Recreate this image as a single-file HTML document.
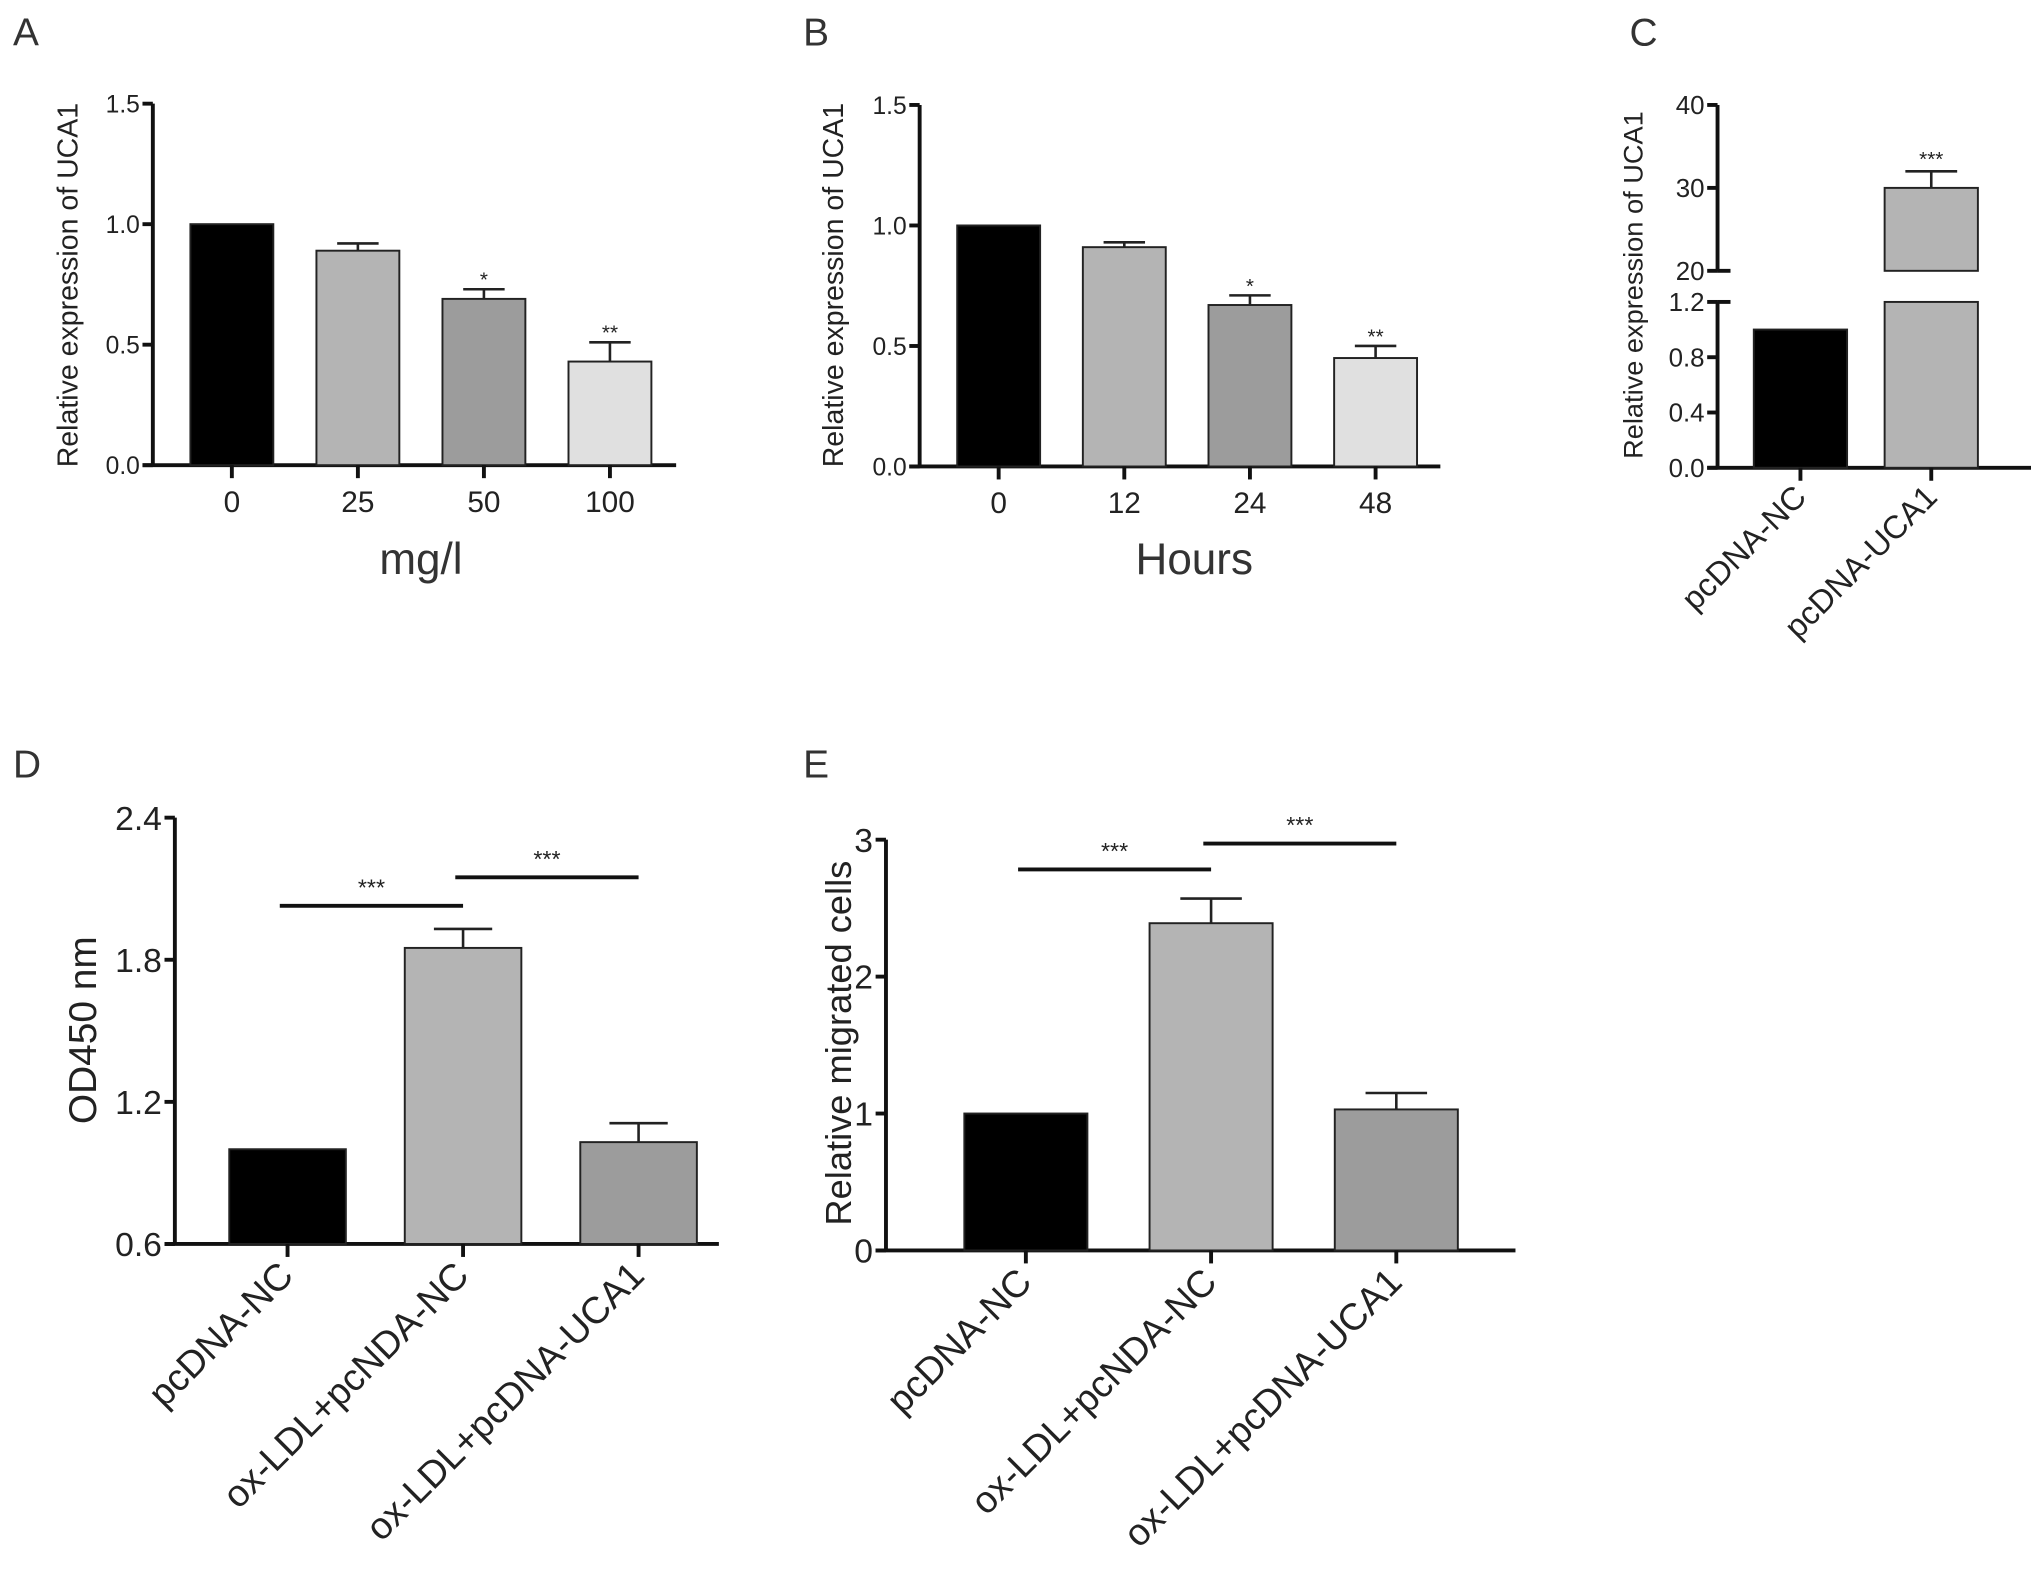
<!DOCTYPE html>
<html><head><meta charset="utf-8"><style>
html,body{margin:0;padding:0;background:#fff;}
svg{display:block;font-family:"Liberation Sans",sans-serif;}
</style></head><body>
<svg id="fig" width="2031" height="1577" viewBox="0 0 1568 1217" preserveAspectRatio="none">
<g font-size="30" fill="#333" font-weight="300">
<text x="10" y="35">A</text>
<text x="620" y="35">B</text>
<text x="1258" y="35">C</text>
<text x="10" y="600">D</text>
<text x="620" y="600">E</text>
</g>
</svg>
<script>
// Panel A data
const aCats = ["0","25","50","100"];
const aVals = [1.0, 0.89, 0.69, 0.43];
const aErr = [0, 0.03, 0.04, 0.08];
const aSig = ["", "", "*", "**"];
const aTicks = [0, 0.5, 1.0, 1.5];
const aTickLabels = ["0.0","0.5","1.0","1.5"];
// Panel B data
const bCats = ["0","12","24","48"];
const bVals = [1.0, 0.91, 0.67, 0.45];
const bErr = [0, 0.02, 0.04, 0.05];
const bSig = ["", "", "*", "**"];
// Panel C data
const cCats = ["pcDNA-NC","pcDNA-UCA1"];
const cVals = [1.0, 30];
const cErr = [0, 2];
const cSig = ["", "***"];
const cLowTicks = [0, 0.4, 0.8, 1.2];
const cLowLabels = ["0.0","0.4","0.8","1.2"];
const cHighTicks = [20, 30, 40];
const cHighLabels = ["20","30","40"];
// Panel D data
const dCats = ["pcDNA-NC","ox-LDL+pcNDA-NC","ox-LDL+pcDNA-UCA1"];
const dVals = [1.0, 1.85, 1.03];
const dErr = [0, 0.08, 0.08];
const dTicks = [0.6, 1.2, 1.8, 2.4];
const dTickLabels = ["0.6","1.2","1.8","2.4"];
const dComparisons = [[0,1,"***"],[1,2,"***"]];
// Panel E data
const eCats = ["pcDNA-NC","ox-LDL+pcNDA-NC","ox-LDL+pcDNA-UCA1"];
const eVals = [1.0, 2.39, 1.03];
const eErr = [0, 0.18, 0.12];
const eTicks = [0, 1, 2, 3];
const eTickLabels = ["0","1","2","3"];
const eComparisons = [[0,1,"***"],[1,2,"***"]];

const NS="http://www.w3.org/2000/svg";
const svg=document.getElementById('fig');
function mk(tag,attrs,parent){const e=document.createElementNS(NS,tag);for(const k in attrs)e.setAttribute(k,attrs[k]);(parent||svg).appendChild(e);return e;}
function txt(s,attrs,parent){const e=mk('text',attrs,parent);e.textContent=s;return e;}

function panel(o){
  const g=mk('g',{});
  
  
  const y=v=>o.y0+(v-o.vmin)/(o.vmax-o.vmin)*(o.y1-o.y0);
  const ya=mk('line',{x1:o.ax,y1:y(o.vmax),x2:o.ax,y2:o.y0,stroke:'#111','stroke-width':3},g);
  
  
  o.ticks.forEach((t,i)=>{
    mk('line',{x1:o.ax-8,y1:y(t),x2:o.ax,y2:y(t),stroke:'#111','stroke-width':3},g);
    const tl=txt(o.tickLabels[i],{x:o.ax-10,y:y(t)+o.tfs*0.36,'text-anchor':'end','font-size':o.tfs,fill:'#222'},g);
    
    
  });
  const xa=mk('line',{x1:o.ax-8,y1:o.y0,x2:o.xend,y2:o.y0,stroke:'#111','stroke-width':3},g);
  
  
  o.cats.forEach((c,i)=>{
    const cx=o.c0+i*o.step;
    const top=y(o.vals[i]);
    if(o.err[i]>0){
      const et=y(o.vals[i]+o.err[i]);
      mk('line',{x1:cx,y1:top,x2:cx,y2:et,stroke:'#222','stroke-width':2},g);
      mk('line',{x1:cx-o.bw*0.25,y1:et,x2:cx+o.bw*0.25,y2:et,stroke:'#222','stroke-width':2},g);
      if(o.sig&&o.sig[i]){const s=txt(o.sig[i],{x:cx,y:et-2,'text-anchor':'middle','font-size':16,fill:'#222'},g);
        
        }
    }
    const r=mk('rect',{x:cx-o.bw/2,y:top,width:o.bw,height:o.y0-top,fill:o.colors[i],stroke:'#222','stroke-width':1.5},g);
    
    
    mk('line',{x1:cx,y1:o.y0,x2:cx,y2:o.y0+10,stroke:'#111','stroke-width':3},g);
    let l;
    if(o.rot){
      l=txt(c,{x:cx+6,y:o.y0+26,'text-anchor':'end','font-size':o.xfs,fill:'#222',transform:`rotate(-45 ${cx+6} ${o.y0+26})`},g);
    }else{
      l=txt(c,{x:cx,y:o.y0+36,'text-anchor':'middle','font-size':o.xfs,fill:'#222'},g);
    }
    
    
  });
  if(o.comps){o.comps.forEach((cp,k)=>{
    const x1=o.c0+cp[0]*o.step-6,x2=o.c0+cp[1]*o.step;
    const ly=o.compY[k];
    const ln=mk('line',{x1:x1,y1:ly,x2:x2,y2:ly,stroke:'#111','stroke-width':3},g);
    
    
    const s=txt(cp[2],{x:(x1+x2)/2,y:ly-8,'text-anchor':'middle','font-size':18,fill:'#222'},g);
    
    
  });}
  const yl=txt(o.ylab,{x:o.ylx,y:o.yly,'text-anchor':'middle','font-size':o.ylfs,fill:'#222',transform:`rotate(-90 ${o.ylx} ${o.yly})`},g);
  
  
  if(o.xlab){const xl=txt(o.xlab,{x:o.xlx,y:o.xly,'text-anchor':'middle','font-size':34,fill:'#333'},g);
    
    }
}
const four=['#000','#b4b4b4','#9c9c9c','#e0e0e0'];
panel({name:'panel-a',ax:118,y0:359,y1:80,vmin:0,vmax:1.5,ticks:aTicks,tickLabels:aTickLabels,tfs:19,xend:522,cats:aCats,vals:aVals,err:aErr,sig:aSig,c0:179,step:97.3,bw:64,colors:four,xfs:23,ylab:'Relative expression of UCA1',ylx:60,yly:220,ylfs:22,xlab:'mg/l',xlx:325,xly:443});
panel({name:'panel-b',ax:710,y0:360,y1:81,vmin:0,vmax:1.5,ticks:aTicks,tickLabels:aTickLabels,tfs:19,xend:1112,cats:bCats,vals:bVals,err:bErr,sig:bSig,c0:771,step:97,bw:64,colors:four,xfs:23,ylab:'Relative expression of UCA1',ylx:651,yly:220,ylfs:22,xlab:'Hours',xlx:922,xly:443});
panel({name:'panel-d',ax:135,y0:960,y1:631,vmin:0.6,vmax:2.4,ticks:dTicks,tickLabels:dTickLabels,tfs:26,xend:555,cats:dCats,vals:dVals,err:dErr,c0:222,step:135.5,bw:90,colors:['#000','#b4b4b4','#9c9c9c'],xfs:29,rot:true,comps:dComparisons,compY:[699,677],ylab:'OD450 nm',ylx:74,yly:795,ylfs:30});
panel({name:'panel-e',ax:684,y0:965,y1:648,vmin:0,vmax:3,ticks:eTicks,tickLabels:eTickLabels,tfs:26,xend:1170,cats:eCats,vals:eVals,err:eErr,c0:792,step:143,bw:95,colors:['#000','#b4b4b4','#9c9c9c'],xfs:29,rot:true,comps:eComparisons,compY:[671,651],ylab:'Relative migrated cells',ylx:657,yly:805,ylfs:28});

// Panel C (broken axis)
(function(){
  const g=mk('g',{});
  
  
  const ax=1326,y0=361,lowTop=233,hiBot=209,hiTop=81;
  const yl=v=>y0-(v/1.2)*(y0-lowTop);
  const yh=v=>hiBot-(v-20)/20*(hiBot-hiTop);
  const yv=v=>v<=1.2?yl(v):yh(v);
  mk('line',{x1:ax,y1:lowTop,x2:ax,y2:y0,stroke:'#111','stroke-width':3},g);
  mk('line',{x1:ax,y1:hiTop,x2:ax,y2:hiBot,stroke:'#111','stroke-width':3},g);
  mk('line',{x1:ax,y1:hiBot,x2:ax+10,y2:hiBot,stroke:'#111','stroke-width':3},g);
  mk('line',{x1:ax,y1:lowTop,x2:ax+10,y2:lowTop,stroke:'#111','stroke-width':3},g);
  cLowTicks.forEach((t,i)=>{mk('line',{x1:ax-8,y1:yl(t),x2:ax,y2:yl(t),stroke:'#111','stroke-width':3},g);
    const l=txt(cLowLabels[i],{x:ax-10,y:yl(t)+7,'text-anchor':'end','font-size':20,fill:'#222'},g);
    
    });
  cHighTicks.forEach((t,i)=>{mk('line',{x1:ax-8,y1:yh(t),x2:ax,y2:yh(t),stroke:'#111','stroke-width':3},g);
    const l=txt(cHighLabels[i],{x:ax-10,y:yh(t)+7,'text-anchor':'end','font-size':20,fill:'#222'},g);
    
    });
  const xa=mk('line',{x1:ax-8,y1:y0,x2:1568,y2:y0,stroke:'#111','stroke-width':3},g);
  
  
  const cols=['#000','#b4b4b4'],c0=1390,step=101,bw=72;
  cCats.forEach((c,i)=>{
    const cx=c0+i*step;const v=cVals[i];
    if(v<=1.2){
      const r=mk('rect',{x:cx-bw/2,y:yv(v),width:bw,height:y0-yv(v),fill:cols[i],stroke:'#222','stroke-width':1.5},g);
      
      
    }else{
      const r=mk('rect',{x:cx-bw/2,y:lowTop,width:bw,height:y0-lowTop,fill:cols[i],stroke:'#222','stroke-width':1.5},g);
      
      
      const r2=mk('rect',{x:cx-bw/2,y:yh(v),width:bw,height:hiBot-yh(v),fill:cols[i],stroke:'#222','stroke-width':1.5},g);
      
      
      mk('rect',{x:cx-bw/2-2,y:hiBot+1,width:bw+4,height:lowTop-hiBot-2,fill:'#fff'},g);
    }
    if(cErr[i]>0){const et=yh(v+cErr[i]);
      mk('line',{x1:cx,y1:yh(v),x2:cx,y2:et,stroke:'#222','stroke-width':2},g);
      mk('line',{x1:cx-20,y1:et,x2:cx+20,y2:et,stroke:'#222','stroke-width':2},g);
      const s=txt(cSig[i],{x:cx,y:et-4,'text-anchor':'middle','font-size':16,fill:'#222'},g);
      
      }
    mk('line',{x1:cx,y1:y0,x2:cx,y2:y0+10,stroke:'#111','stroke-width':3},g);
    const l=txt(c,{x:cx+6,y:y0+24,'text-anchor':'end','font-size':25,fill:'#222',transform:`rotate(-45 ${cx+6} ${y0+24})`},g);
    
    
  });
  const t=txt('Relative expression of UCA1',{x:1268,y:220,'text-anchor':'middle','font-size':21,fill:'#222',transform:'rotate(-90 1268 220)'},g);
  
  
})();
</script>
</body></html>
